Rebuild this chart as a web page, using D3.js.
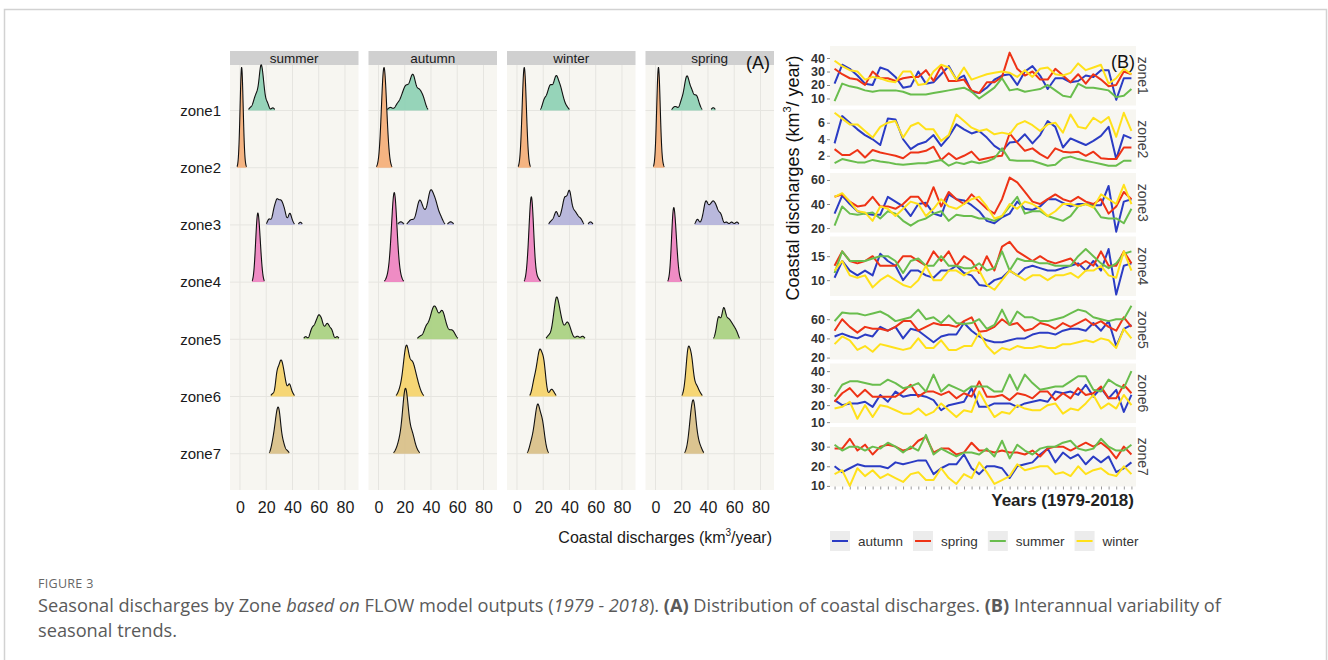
<!DOCTYPE html>
<meta charset="utf-8">
<style>
body { margin: 0; background: #fff; }
text { font-family: "Liberation Sans", Arial, sans-serif; }
.caption text, text.caption { font-family: "Open Sans", sans-serif; }
</style>
<body>
<script src="https://d3js.org/d3.v7.min.js"></script>
<script>

// ---- data ----
var seasons = ["autumn", "spring", "summer", "winter"];
var facetSeasons = ["summer", "autumn", "winter", "spring"];
var zones = ["zone1", "zone2", "zone3", "zone4", "zone5", "zone6", "zone7"];
var years = [1979,1980,1981,1982,1983,1984,1985,1986,1987,1988,1989,1990,1991,1992,1993,1994,1995,1996,1997,1998,
             1999,2000,2001,2002,2003,2004,2005,2006,2007,2008,2009,2010,2011,2012,2013,2014,2015,2016,2017,2018];

var zone1 = {
  autumn: [21,35,32,27,21,20,33,31,26,18, 19,30,21,22,28,34,24,27,15,14, 18,24,27,28,20,30,34,27,17,25, 25,22,23,27,26,31,31,9,25,25],
  spring: [32,28,25,24,20,30,25,25,23,25, 26,26,31,23,34,23,23,24,16,14, 22,22,26,44,32,27,30,24,24,32, 27,22,28,21,28,24,19,20,30,28],
  summer: [8,21,19,18,16,15,16,16,16,15, 13,13,13,14,15,16,17,18,15,10, 14,18,25,16,17,15,16,17,20,16, 12,11,21,18,18,17,16,11,12,17],
  winter: [38,34,31,30,24,26,25,23,22,30, 30,20,21,30,35,33,24,33,24,26, 28,29,30,29,26,31,26,32,33,28, 27,29,36,31,33,35,21,25,32,28]
};
var zone2 = {
  autumn: [3.5,6.8,6.0,5.2,4.5,4.0,3.3,6.5,6.4,4.0, 2.8,3.4,3.7,4.5,3.2,4.3,5.8,5.2,4.7,5.0, 4.2,3.2,2.6,3.6,3.7,4.6,3.5,4.5,6.2,5.5, 3.0,4.1,3.7,3.3,3.8,4.4,5.5,1.6,4.5,4.1],
  spring: [2.8,2.1,2.1,2.7,1.8,2.7,2.4,2.2,2.0,1.7, 2.4,2.4,2.6,3.1,1.5,2.3,1.6,2.0,2.5,1.5, 1.7,1.9,2.0,4.7,3.6,2.6,2.9,2.2,1.7,2.9, 2.5,2.4,2.5,2.0,2.5,1.7,1.6,1.6,3.0,3.0],
  summer: [1.1,1.6,1.4,1.2,1.2,1.5,1.3,1.2,1.0,0.9, 1.0,1.1,1.1,1.3,1.5,0.8,1.2,1.0,1.3,1.1, 1.3,1.7,2.9,1.5,1.4,1.4,1.4,1.1,0.8,0.9, 1.7,1.9,1.6,1.4,1.2,1.0,0.8,0.8,1.4,1.4],
  winter: [7.2,6.5,5.8,5.8,5.0,4.2,5.5,6.0,6.2,4.2, 5.6,6.0,5.2,5.2,3.8,4.5,7.0,6.2,5.4,5.0, 5.2,4.6,4.8,4.6,5.8,6.2,5.7,5.0,5.8,6.0, 4.8,7.0,5.5,5.3,6.6,6.0,6.7,4.3,7.2,5.0]
};
var zone3 = {
  autumn: [32,47,40,34,32,31,31,46,42,38, 30,40,41,32,30,48,44,43,39,34, 26,24,29,32,42,36,35,38,44,44, 41,38,40,40,39,39,55,17,42,44],
  spring: [46,48,42,38,39,46,38,38,36,40, 46,46,38,54,38,50,44,40,48,42, 36,32,44,62,58,50,42,40,44,48, 44,42,46,42,40,44,32,38,50,44],
  summer: [22,38,32,31,32,33,28,34,32,26, 22,26,28,32,34,26,31,30,30,28, 28,26,30,38,46,32,34,34,30,28, 26,30,38,40,38,29,28,28,24,36],
  winter: [46,49,42,34,33,26,38,36,30,36, 42,40,30,36,44,38,36,40,44,46, 38,28,30,40,36,42,40,36,30,34, 40,40,38,40,37,48,44,40,56,40]
};
var zone4 = {
  autumn: [10.5,14,12,11,12,11,15.5,14,13,10, 12,12,11,10.5,12,12,13,11.5,11,9, 8.8,10,10.5,12,11,12.5,13,12.5,12,12, 12.5,13,13.5,12,14,12,16.5,7,13,13.5],
  spring: [13,16,14,13.5,14,15,13,13,13,15, 15,14,13,16,14,16,13,15,14,11.5, 15,12,17,18,16,15,14,15,14,13.5, 14,14.5,13,14,13,16,13,13,16,13.5],
  summer: [11.5,16,14,14,14,14.5,15,15,14,11.5, 14,14.5,13,13,15,13,13,12.5,12.5,13.5, 12,12.5,16,12,14.5,14,14,13.5,13.5,13, 13,13,15,16.5,15,13.5,12.5,13.5,15.5,16],
  winter: [12,14,11,10.5,11,8.5,10,11,10,9, 8.5,10,13,10,10,12,12,11,12,12, 9,8,10,12,11,10,11,11,10,11, 11,11.5,10.5,12,12,13,11,10.5,16,12]
};
var zone5 = {
  autumn: [42,45,42,40,44,42,52,48,52,40, 50,48,42,36,42,44,44,56,48,42, 38,36,36,38,40,40,44,46,46,44, 48,50,50,48,56,48,58,32,50,54],
  spring: [48,60,52,46,52,50,50,48,52,58, 58,48,52,56,54,54,52,58,62,47, 48,52,60,54,56,48,50,56,54,50, 56,52,56,60,54,58,52,48,62,52],
  summer: [58,67,66,66,64,66,68,64,58,60, 62,70,60,62,56,64,56,55,56,60, 50,54,70,54,68,62,62,58,58,60, 62,66,70,68,62,60,58,60,60,74],
  winter: [34,42,38,28,32,26,34,32,30,28, 30,40,30,30,38,28,28,32,32,46, 32,24,30,28,32,30,30,32,30,30, 34,34,36,38,36,40,38,30,50,40]
};
var zone6 = {
  autumn: [23,20,21,21,22,19,26,22,28,25, 26,26,25,23,17,20,21,22,30,19, 19,21,21,21,19,21,22,23,22,28, 27,28,26,32,25,30,24,29,16,26],
  spring: [22,27,30,25,29,25,25,25,25,28, 32,25,28,28,26,28,24,27,25,34, 25,25,26,23,27,26,24,28,28,23, 27,24,30,26,27,31,24,24,32,27],
  summer: [25,32,34,34,33,32,32,35,33,30, 31,33,28,38,28,32,30,28,31,31, 31,28,28,38,29,38,33,29,30,31, 31,34,37,37,29,28,35,32,30,40],
  winter: [18,19,22,12,20,13,20,19,17,15, 15,18,14,16,21,17,13,17,16,28, 20,13,16,15,20,18,17,17,20,21, 15,18,17,21,26,18,21,18,26,20]
};
var zone7 = {
  autumn: [20,17,19,21,20,20,20,19,22,21, 22,23,23,16,19,21,21,26,19,16, 20,20,19,14,20,21,22,26,29,22, 27,24,26,21,25,22,25,17,19,22],
  spring: [29,29,34,28,31,26,30,31,30,28, 29,33,35,27,29,29,26,27,32,28, 28,27,28,27,27,26,28,25,29,30, 30,28,30,32,30,32,29,24,30,26],
  summer: [31,28,30,30,28,30,29,32,30,27, 30,28,36,26,29,27,25,27,27,26, 29,25,33,24,31,28,26,29,30,30, 32,33,29,28,29,34,30,28,28,31],
  winter: [16,18,10,19,15,18,14,16,14,12, 16,17,13,13,19,14,11,16,14,22, 17,11,13,15,21,18,19,20,20,16, 17,15,20,16,18,19,16,15,20,16]
};
var zoneData = [zone1, zone2, zone3, zone4, zone5, zone6, zone7];

var yDomains = [[4.8,48.9],[0.4,7.6],[16.3,65.8],[6.7,19.1],[18,80],[9.5,44.5],[9.7,40]];
var yTicks = [[10,20,30,40],[2,4,6],[20,40,60],[10,15],[20,40,60],[10,20,30,40],[10,20,30]];
var xTicksA = [0,20,40,60,80];

var zoneFill = ["#8dd0b4","#f4ae78","#b3b2da","#ee82c0","#a8d080","#f5d36a","#d8bf88"];
var seasonColor = {autumn: "#2b3cc4", spring: "#ee3316", summer: "#69bd4d", winter: "#ffe11a"};

// ---- page ----
var W = 1328, H = 660;
var svg = d3.select("body").append("svg").attr("width", W).attr("height", H);

svg.append("rect").attr("x", 4.5).attr("y", 9.5).attr("width", 1322).attr("height", 700)
    .attr("fill", "#fff").attr("stroke", "#d2d2d2").attr("stroke-width", 1.5);

var panelBg = "#f7f6f1";

// ---- panel A: ridgelines ----
var aTop = 65, aBot = 490, aW = 128.5, aStep = 138.5, aLeft0 = 230;
var yA = d3.scalePoint().domain(zones).range([110.5, 453.7]);
var spacing = yA.step();

function nrd0(v) {
  var s = v.slice().sort(d3.ascending);
  var iqr = d3.quantile(s, 0.75) - d3.quantile(s, 0.25);
  var lo = Math.min(d3.deviation(s), iqr / 1.34);
  return 0.9 * lo * Math.pow(s.length, -0.2);
}

function kde(v, bw) {
  var lo = d3.min(v) - 3 * bw, hi = d3.max(v) + 3 * bw, n = 256, out = [];
  for (var i = 0; i < n; i++) {
    var x = lo + (hi - lo) * i / (n - 1), sum = 0;
    v.forEach(function(xi) { var u = (x - xi) / bw; sum += Math.exp(-0.5 * u * u); });
    out.push([x, sum / (v.length * bw * Math.sqrt(2 * Math.PI))]);
  }
  return out;
}

facetSeasons.forEach(function(season, j) {
  var left = aLeft0 + j * aStep;
  var xA = d3.scaleLinear().domain([-7.6, 90.3]).range([left, left + aW]);
  var g = svg.append("g");

  g.append("rect").attr("x", left).attr("y", aTop).attr("width", aW).attr("height", aBot - aTop).attr("fill", panelBg);
  g.append("rect").attr("x", left).attr("y", 51).attr("width", aW).attr("height", aTop - 51).attr("fill", "#d0d0d0");
  g.append("text").attr("x", left + aW / 2).attr("y", 58.5).attr("text-anchor", "middle").attr("dy", "0.35em")
      .attr("font-size", 13.5).attr("fill", "#1a1a1a").text(season);

  g.selectAll(".vg").data(xTicksA).enter().append("line")
      .attr("x1", d => xA(d)).attr("x2", d => xA(d)).attr("y1", aTop).attr("y2", aBot)
      .attr("stroke", "#e6e5e0").attr("stroke-width", 1);
  g.selectAll(".hg").data(zones).enter().append("line")
      .attr("x1", left).attr("x2", left + aW).attr("y1", d => yA(d)).attr("y2", d => yA(d))
      .attr("stroke", "#e6e5e0").attr("stroke-width", 1);

  var bw = d3.mean(zoneData, z => nrd0(z[season]));
  var dens = zoneData.map(z => kde(z[season], bw));
  var maxD = d3.max(dens, d => d3.max(d, p => p[1]));
  var k = 1.75 * spacing / maxD, thr = maxD * 0.01;

  dens.forEach(function(d, zi) {
    var base = yA(zones[zi]);
    var area = d3.area().defined(p => p[1] >= thr).x(p => xA(p[0])).y0(base).y1(p => base - p[1] * k);
    var line = d3.line().defined(p => p[1] >= thr).x(p => xA(p[0])).y(p => base - p[1] * k);
    g.append("path").attr("d", area(d)).attr("fill", zoneFill[zi]).attr("fill-opacity", 0.92);
    g.append("path").attr("d", line(d)).attr("fill", "none").attr("stroke", "#111").attr("stroke-width", 1.1);
  });

  var ax = g.append("g").attr("transform", "translate(0," + aBot + ")")
      .call(d3.axisBottom(xA).tickValues(xTicksA).tickSize(0).tickPadding(12));
  ax.select(".domain").remove();
  ax.selectAll("text").attr("font-size", 16).attr("fill", "#1a1a1a").attr("font-family", null);
});

var zAx = svg.append("g").attr("transform", "translate(229,0)")
    .call(d3.axisLeft(yA).tickSize(0).tickPadding(8));
zAx.select(".domain").remove();
zAx.selectAll("text").attr("font-size", 15).attr("fill", "#1a1a1a").attr("font-family", null);

var xt = svg.append("text").attr("x", 772).attr("y", 543).attr("text-anchor", "end")
    .attr("font-size", 16).attr("fill", "#1a1a1a");
xt.append("tspan").text("Coastal discharges  (km");
xt.append("tspan").attr("font-size", 10).attr("dy", -7).text("3");
xt.append("tspan").attr("dy", 7).text("/year)");

svg.append("text").attr("x", 758).attr("y", 63).attr("text-anchor", "middle").attr("dy", "0.35em")
    .attr("font-size", 18).attr("fill", "#111").text("(A)");

// ---- panel B: time series ----
var bLeft = 830, bRight = 1136, bTop = 46, bH = 59.5, bStep = 63.5;
var xB = d3.scalePoint().domain(years).range([bLeft, bRight]).padding(0.6);

zoneData.forEach(function(z, zi) {
  var top = bTop + zi * bStep;
  var yB = d3.scaleLinear().domain(yDomains[zi]).range([top + bH, top]);
  var g = svg.append("g");
  g.append("rect").attr("x", bLeft).attr("y", top).attr("width", bRight - bLeft).attr("height", bH).attr("fill", panelBg);

  var line = d3.line().x((d, i) => xB(years[i])).y(d => yB(d));
  seasons.forEach(function(s) {
    g.append("path").attr("d", line(z[s])).attr("fill", "none")
        .attr("stroke", seasonColor[s]).attr("stroke-width", 2).attr("stroke-linejoin", "round");
  });

  var ay = g.append("g").attr("transform", "translate(" + bLeft + ",0)")
      .call(d3.axisLeft(yB).tickValues(yTicks[zi]).tickSize(3).tickPadding(2));
  ay.select(".domain").remove();
  ay.selectAll("line").attr("stroke", "#888");
  ay.selectAll("text").attr("font-size", 12.5).attr("font-weight", "bold").attr("fill", "#333").attr("font-family", null);

  g.append("text").attr("transform", "translate(1143," + (top + bH / 2) + ") rotate(90)")
      .attr("text-anchor", "middle").attr("dy", "0.35em").attr("font-size", 14).attr("fill", "#444").text(zones[zi]);
});

var axB = svg.append("g").attr("transform", "translate(0," + (bTop + 6 * bStep + bH) + ")")
    .call(d3.axisBottom(xB).tickSize(3).tickFormat(""));
axB.select(".domain").remove();
axB.selectAll("line").attr("stroke", "#999");

svg.append("text").attr("x", 1123).attr("y", 62).attr("text-anchor", "middle").attr("dy", "0.35em")
    .attr("font-size", 18).attr("fill", "#111").text("(B)");

var yt = svg.append("text").attr("transform", "translate(799,178) rotate(-90)").attr("text-anchor", "middle")
    .attr("font-size", 18).attr("fill", "#111");
yt.append("tspan").text("Coastal discharges  (km");
yt.append("tspan").attr("font-size", 11).attr("dy", -8).text("3");
yt.append("tspan").attr("dy", 8).text("/ year)");

svg.append("text").attr("x", 1134).attr("y", 506).attr("text-anchor", "end").attr("font-size", 17)
    .attr("font-weight", "bold").attr("fill", "#222").text("Years (1979-2018)");

// legend
var lx = 830;
seasons.forEach(function(s) {
  var g = svg.append("g").attr("transform", "translate(" + lx + ",531)");
  g.append("rect").attr("width", 20).attr("height", 20).attr("fill", "#ececec");
  g.append("line").attr("x1", 2).attr("x2", 18).attr("y1", 10).attr("y2", 10)
      .attr("stroke", seasonColor[s]).attr("stroke-width", 2);
  var t = g.append("text").attr("x", 28).attr("y", 10).attr("dy", "0.35em").attr("font-size", 13.5)
      .attr("fill", "#333").text(s);
  lx += 28 + t.node().getComputedTextLength() + 10;
});

// ---- caption ----
var cap = svg.append("g").attr("class", "caption");
cap.append("text").attr("x", 38).attr("y", 588).attr("font-size", 12.5).attr("fill", "#666")
    .attr("letter-spacing", 0.3).text("FIGURE 3");
var c1 = cap.append("text").attr("x", 38).attr("y", 612).attr("font-size", 18.2).attr("fill", "#5a5a5a");
c1.append("tspan").text("Seasonal discharges by Zone ");
c1.append("tspan").attr("font-style", "italic").text("based on");
c1.append("tspan").text(" FLOW model outputs (");
c1.append("tspan").attr("font-style", "italic").text("1979 - 2018");
c1.append("tspan").text("). ");
c1.append("tspan").attr("font-weight", "bold").text("(A)");
c1.append("tspan").text(" Distribution of coastal discharges. ");
c1.append("tspan").attr("font-weight", "bold").text("(B)");
c1.append("tspan").text(" Interannual variability of");
cap.append("text").attr("x", 38).attr("y", 637).attr("font-size", 18.2).attr("fill", "#5a5a5a").text("seasonal trends.");

</script>
